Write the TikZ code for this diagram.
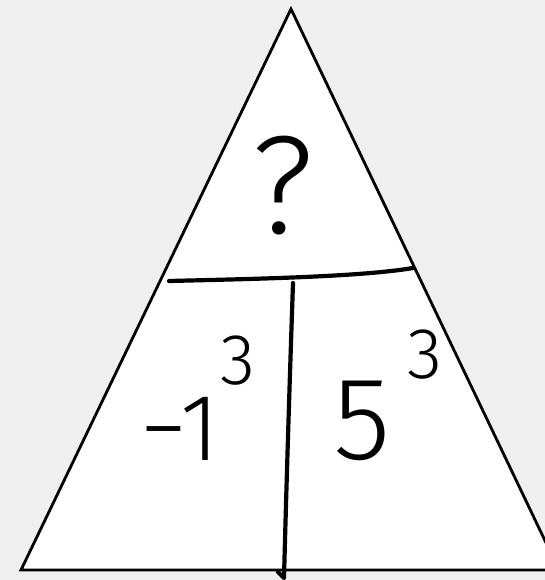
\documentclass[tikz,border=0pt]{standalone}
\usepackage{fontspec}
\usepackage{xcolor}
\usetikzlibrary{positioning}
\newfontfamily\handfont{Fira Sans Light}
\definecolor{paper}{HTML}{EFEFEF}
\tikzset{
  tri/.style={draw=black, fill=white, line width=2.8pt, line join=miter},
  pen/.style={draw=black, line width=4.2pt, line cap=round, line join=round},
  hw/.style={font=\handfont\fontsize{#1}{#1}\selectfont, inner sep=0pt, anchor=base}
}

\begin{document}
\begin{tikzpicture}[x=1pt, y=-1pt]
  \fill[paper] (0,0) rectangle (545,580);
  \useasboundingbox (0,0) rectangle (545,580);
  \coordinate (top) at (291,9);
  \coordinate (bl)  at (21,570);
  \coordinate (br)  at (559,570);
  \draw[tri] (top) -- (br) -- (bl) -- cycle;
  % dividing strokes
  \coordinate (hl) at (169,281);
  \coordinate (hr) at (413,268);
  \coordinate (vt) at (293,283);
  \coordinate (vb) at (284,578);
  \coordinate (vk) at (278,572);
  \draw[pen] (hl) .. controls (250,279) and (360,277) .. (hr);
  \draw[pen] (vt) .. controls (289,400) and (286,500) .. (vb) -- (vk);
  % entries
  \node[hw=140pt] (quest) at (283,233) {?};
  \node[hw=95pt]  (neg)   at (180,460) {−1};
  \node[hw=72pt]  (negex) at (238,384) {3};
  \node[hw=118pt] (five)  at (362,459) {5};
  \node[hw=72pt]  (fivex) at (425,378) {3};
\end{tikzpicture}
\end{document}
